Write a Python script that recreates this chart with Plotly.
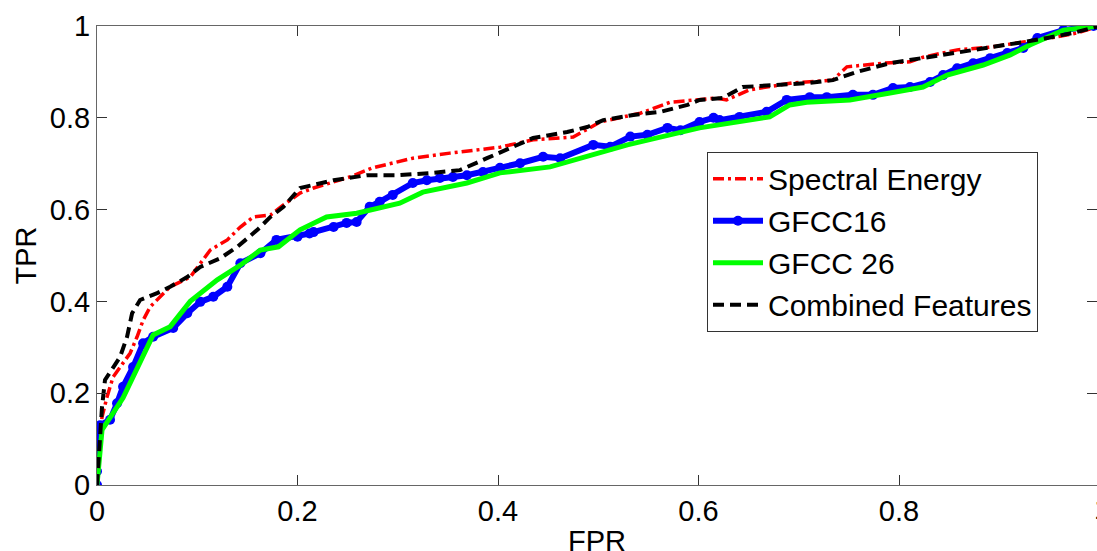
import plotly.graph_objects as go

# Spectral Energy
se_fpr = [0, 0.002, 0.005, 0.01, 0.016, 0.026, 0.033, 0.04, 0.046, 0.053, 0.063, 0.073, 0.093,
          0.113, 0.13, 0.143, 0.156, 0.173, 0.186, 0.2025, 0.216, 0.252, 0.275, 0.315, 0.352,
          0.389, 0.402, 0.435, 0.475, 0.502, 0.542, 0.572, 0.595, 0.618, 0.628, 0.651, 0.694,
          0.734, 0.748, 0.784, 0.811, 0.824, 0.858, 0.891, 0.924, 0.951, 0.978, 1.0]
se_tpr = [0, 0.08, 0.148, 0.192, 0.235, 0.265, 0.287, 0.323, 0.359, 0.388, 0.41, 0.432, 0.453,
          0.512, 0.534, 0.562, 0.584, 0.588, 0.61, 0.636, 0.647, 0.671, 0.691, 0.712, 0.723,
          0.734, 0.736, 0.752, 0.758, 0.791, 0.81, 0.834, 0.839, 0.843, 0.839, 0.861, 0.876,
          0.882, 0.911, 0.919, 0.922, 0.932, 0.948, 0.954, 0.965, 0.974, 0.985, 1.0]

# GFCC16
g16_fpr = [0, 0, 0, 0, 0.003, 0.013, 0.02, 0.026, 0.036, 0.046, 0.056, 0.076, 0.09, 0.103,
           0.116, 0.13, 0.143, 0.163, 0.179, 0.2, 0.212, 0.216, 0.236, 0.249, 0.259, 0.272,
           0.282, 0.295, 0.315, 0.329, 0.342, 0.355, 0.369, 0.385, 0.402, 0.422, 0.445, 0.462,
           0.495, 0.512, 0.532, 0.549, 0.569, 0.582, 0.601, 0.615, 0.621, 0.641, 0.668, 0.688,
           0.711, 0.728, 0.754, 0.774, 0.794, 0.811, 0.831, 0.844, 0.858, 0.874, 0.891, 0.908,
           0.924, 0.938, 0.964, 0.994, 1.0]
g16_tpr = [0, 0.03, 0.07, 0.1, 0.13, 0.142, 0.178, 0.214, 0.257, 0.309, 0.323, 0.342, 0.374,
           0.399, 0.41, 0.432, 0.483, 0.505, 0.534, 0.541, 0.548, 0.551, 0.562, 0.571, 0.573,
           0.606, 0.617, 0.632, 0.658, 0.664, 0.669, 0.671, 0.675, 0.682, 0.691, 0.701, 0.715,
           0.712, 0.741, 0.737, 0.759, 0.763, 0.778, 0.773, 0.791, 0.8, 0.795, 0.802, 0.813,
           0.839, 0.845, 0.845, 0.85, 0.85, 0.865, 0.867, 0.878, 0.893, 0.908, 0.919, 0.93,
           0.941, 0.952, 0.974, 0.991, 1.0, 1.0]

# GFCC 26
g26_fpr = [0, 0.002, 0.003, 0.005, 0.026, 0.056, 0.073, 0.093, 0.12, 0.143, 0.163, 0.181,
           0.2025, 0.229, 0.259, 0.302, 0.325, 0.369, 0.402, 0.452, 0.529, 0.601, 0.671, 0.691,
           0.708, 0.751, 0.791, 0.824, 0.848, 0.884, 0.911, 0.931, 0.964, 1.0]
g26_tpr = [0, 0.05, 0.09, 0.12, 0.19, 0.327, 0.345, 0.4, 0.447, 0.479, 0.512, 0.519,
           0.556, 0.584, 0.592, 0.614, 0.638, 0.658, 0.68, 0.693, 0.741, 0.778, 0.802, 0.828,
           0.834, 0.839, 0.854, 0.867, 0.893, 0.915, 0.937, 0.959, 0.991, 1.0]

# Combined Features
cf_fpr = [0, 0.002, 0.005, 0.008, 0.016, 0.023, 0.03, 0.035, 0.043, 0.06, 0.073, 0.09, 0.103,
          0.123, 0.14, 0.16, 0.173, 0.186, 0.2025, 0.236, 0.269, 0.302, 0.335, 0.362, 0.389,
          0.402, 0.435, 0.469, 0.489, 0.505, 0.535, 0.562, 0.589, 0.601, 0.624, 0.644, 0.671,
          0.711, 0.734, 0.758, 0.791, 0.824, 0.858, 0.891, 0.924, 0.948, 0.974, 1.0]
cf_tpr = [0, 0.08, 0.17, 0.229, 0.257, 0.279, 0.323, 0.374, 0.403, 0.418, 0.432, 0.453, 0.475,
          0.494, 0.519, 0.556, 0.584, 0.606, 0.647, 0.664, 0.675, 0.675, 0.68, 0.686, 0.712,
          0.725, 0.756, 0.769, 0.78, 0.795, 0.806, 0.813, 0.828, 0.839, 0.843, 0.867, 0.871,
          0.876, 0.882, 0.9, 0.919, 0.93, 0.943, 0.954, 0.965, 0.974, 0.985, 1.0]

tick_vals = [0, 0.2, 0.4, 0.6, 0.8, 1]
tick_text = ["0", "0.2", "0.4", "0.6", "0.8", "1"]

FONT = "Liberation Sans, Arial, sans-serif"

fig = go.Figure()
fig.add_trace(go.Scatter(x=se_fpr, y=se_tpr, mode="lines", name="Spectral Energy",
                         line=dict(color="#ff0000", width=3.5, dash="11px,4px,3px,4px")))
fig.add_trace(go.Scatter(x=g16_fpr, y=g16_tpr, mode="lines+markers", name="GFCC16",
                         line=dict(color="#0000ff", width=6),
                         marker=dict(color="#0000ff", size=10, symbol="circle")))
fig.add_trace(go.Scatter(x=g26_fpr, y=g26_tpr, mode="lines", name="GFCC 26",
                         line=dict(color="#00ff00", width=5)))
fig.add_trace(go.Scatter(x=cf_fpr, y=cf_tpr, mode="lines", name="Combined Features",
                         line=dict(color="#000000", width=4, dash="11px,6px")))

axis_common = dict(showline=True, linecolor="#666666", linewidth=1, mirror="ticks",
                   ticks="inside", ticklen=10, tickcolor="#333333", showgrid=False,
                   zeroline=False, tickvals=tick_vals, ticktext=tick_text, automargin=False,
                   tickfont=dict(family=FONT, size=29, color="black"))

fig.update_layout(
    width=1097, height=551,
    margin=dict(l=97, r=0, t=26, b=66),
    paper_bgcolor="white", plot_bgcolor="white",
    showlegend=True,
    legend=dict(x=0.61, y=0.726, xanchor="left", yanchor="top",
                bgcolor="white", bordercolor="#333333", borderwidth=1,
                itemwidth=50,
                font=dict(family=FONT, size=30, color="black"),
                tracegroupgap=0),
    xaxis=dict(range=[0, 0.9975], **axis_common),
    yaxis=dict(range=[0, 1], **axis_common),
)

fig.add_annotation(x=0.5, y=0, xref="paper", yref="paper", text="FPR", showarrow=False,
                   xanchor="center", yanchor="middle", yshift=-56,
                   font=dict(family=FONT, size=29, color="black"))
fig.add_annotation(x=0, y=0.5, xref="paper", yref="paper", text="TPR", showarrow=False,
                   textangle=-90, xanchor="center", yanchor="middle", xshift=-72,
                   font=dict(family=FONT, size=29, color="black"))
fig.add_annotation(x=1.0, y=0, xref="paper", yref="paper", text="1", showarrow=False,
                   xanchor="left", yanchor="top", xshift=-5, yshift=-6,
                   font=dict(family=FONT, size=29, color="black"))

fig.write_html("out.html")
